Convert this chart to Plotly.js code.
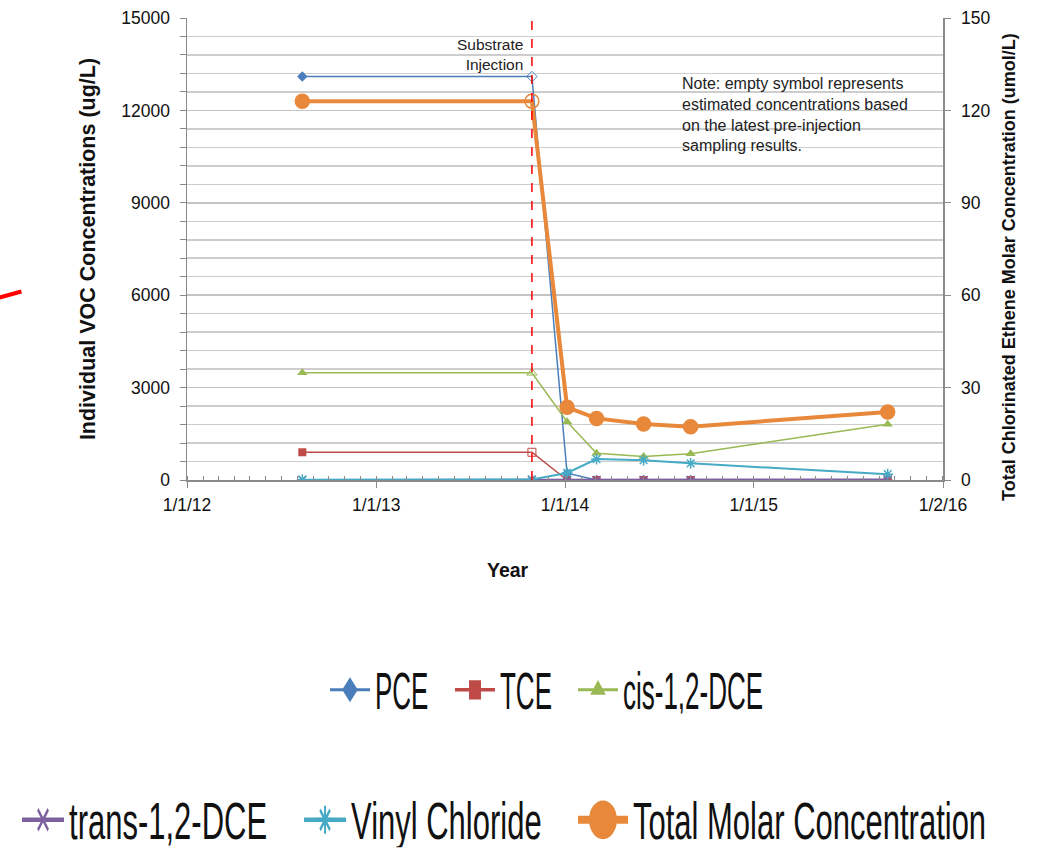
<!DOCTYPE html>
<html>
<head>
<meta charset="utf-8">
<script src="https://cdn.plot.ly/plotly-3.0.1.min.js"></script>
<style>html,body{margin:0;padding:0;background:#fff;}#chart{width:1038px;height:857px;}</style>
</head>
<body>
<div id="chart"></div>
<script>
// ---- data ----
const sampleDates = ['2012-08-11','2013-10-29','2014-01-05','2014-03-03','2014-06-02','2014-09-01','2015-09-17'];
const estimated   = [false, true, false, false, false, false, false];
const pce   = [13100, 13100, 220, 0, 0, 0, 0];
const tce   = [900, 900, 0, 0, 0, 0, 0];
const cis12 = [3480, 3480, 1890, 870, 760, 850, 1810];
const trans12 = [0, 0, 0, 0, 0, 0, 20];
const vinyl = [10, 20, 230, 680, 645, 540, 190];
const totalMolar = [123, 123, 23.6, 20, 18.2, 17.3, 22.1];
const injectionDate = '2013-10-29';
const xTickVals = ['2012-01-01','2013-01-01','2014-01-01','2015-01-01','2016-01-02'];
const xTickText = ['1/1/12','1/1/13','1/1/14','1/1/15','1/2/16'];

function syms(base){ return estimated.map(e => e ? base + '-open' : base); }

const traces = [
  {name:'PCE', x:sampleDates, y:pce, mode:'lines+markers', legend:'legend', legendwidth:70,
   line:{color:'#4A7EBB', width:1.5}, marker:{symbol:syms('diamond'), size:8, color:'#4A7EBB'}},
  {name:'TCE', x:sampleDates, y:tce, mode:'lines+markers', legend:'legend', legendwidth:68,
   line:{color:'#BE4B48', width:1.5}, marker:{symbol:syms('square'), size:8, color:'#BE4B48'}},
  {name:'cis-1,2-DCE', x:sampleDates, y:cis12, mode:'lines+markers', legend:'legend',
   line:{color:'#98B954', width:1.5}, marker:{symbol:syms('triangle-up'), size:9, color:'#98B954'}},
  {name:'trans-1,2-DCE', x:sampleDates, y:trans12, mode:'lines+markers', legend:'legend2', legendwidth:225,
   line:{color:'#7D60A0', width:2}, marker:{symbol:'x-thin-open', size:8, color:'#7D60A0', line:{width:1.5, color:'#7D60A0'}}},
  {name:'Vinyl Chloride', x:sampleDates, y:vinyl, mode:'lines+markers', legend:'legend2',
   line:{color:'#46AAC5', width:2}, marker:{symbol:'asterisk-open', size:9, color:'#46AAC5', line:{width:1.5, color:'#46AAC5'}}},
  {name:'Total Molar Concentration', x:sampleDates, y:totalMolar, yaxis:'y2', mode:'lines+markers', legend:'legend3',
   line:{color:'#E8883A', width:4}, marker:{symbol:syms('circle'), size:14, color:'#E8883A', line:{width:1.5, color:'#E8883A'}}}
];

const baseFam = 'Liberation Sans, Arial, sans-serif';
const tickFont = {family:baseFam, size:17.5, color:'#111'};
const row1Font = {family:baseFam, size:26, color:'#111'};
const row2Font = {family:baseFam, size:31, color:'#111'};

const layout = {
  width:1038, height:857,
  margin:{l:187, r:95, t:18, b:377, pad:0},
  paper_bgcolor:'#fff', plot_bgcolor:'#fff',
  xaxis:{type:'date', range:['2012-01-01','2016-01-02'], tickmode:'array', tickvals:xTickVals, ticktext:xTickText,
    showgrid:false, zeroline:false, showline:true, linecolor:'#8a8a8a', linewidth:1.5,
    ticks:'outside', ticklen:6, tickcolor:'#8a8a8a', tickfont:tickFont, ticklabelstandoff:2,
    minor:{tickmode:'linear', tick0:'2012-01-01', dtick:'M1', ticks:'inside', ticklen:4, tickcolor:'#8a8a8a', showgrid:false}},
  yaxis:{range:[0,15000], tickmode:'linear', tick0:0, dtick:3000, showgrid:true, gridcolor:'#c4c4c4', gridwidth:1.5,
    zeroline:false, showline:true, linecolor:'#8a8a8a', linewidth:1.5, ticks:'outside', ticklen:6, tickcolor:'#8a8a8a',
    tickfont:tickFont, tickformat:'d', ticklabelstandoff:6,
    minor:{dtick:600, showgrid:true, gridcolor:'#cdcdcd', gridwidth:1.5, ticks:'outside', ticklen:6, tickcolor:'#8a8a8a'},
    title:{text:'<b>Individual VOC Concentrations (ug/L)</b>', font:{family:baseFam, size:21.5, color:'#111'}, standoff:20}},
  yaxis2:{range:[0,150], overlaying:'y', side:'right', tickmode:'linear', tick0:0, dtick:30, showgrid:false, zeroline:false,
    showline:true, linecolor:'#8a8a8a', linewidth:1.5, ticks:'outside', ticklen:6, tickcolor:'#8a8a8a', tickfont:tickFont,
    ticklabelstandoff:7},
  shapes:[
    {type:'line', xref:'x', yref:'paper', x0:injectionDate, x1:injectionDate, y0:0, y1:1, line:{color:'#ff0000', width:1.5, dash:'dash'}},
    {type:'line', xref:'paper', yref:'paper', x0:-0.248, x1:-0.219, y0:0.395, y1:0.408, line:{color:'#ff0000', width:4}}
  ],
  annotations:[
    {xref:'x', yref:'paper', x:injectionDate, y:0.92, xanchor:'right', yanchor:'middle', xshift:-7, align:'right', showarrow:false,
     text:'Substrate<br>Injection', font:{family:baseFam, size:15.5, color:'#222'}},
    {xref:'paper', yref:'paper', x:0.652, y:0.792, xanchor:'left', yanchor:'middle', align:'left', showarrow:false,
     text:'Note: empty symbol represents<br>estimated concentrations based<br>on the latest pre-injection<br>sampling results.',
     font:{family:baseFam, size:16, color:'#222'}},
    {xref:'paper', yref:'paper', x:0.425, y:-0.195, xanchor:'center', yanchor:'middle', showarrow:false,
     text:'<b>Year</b>', font:{family:baseFam, size:19.5, color:'#111'}},
    {xref:'paper', yref:'paper', x:1.0873, y:0.461, xanchor:'center', yanchor:'middle', textangle:-90, showarrow:false,
     text:'<b>Total Chlorinated Ethene Molar Concentration (umol/L)</b>', font:{family:baseFam, size:18, color:'#111'}}
  ],
  legend:{orientation:'h', xref:'container', yref:'container', x:0.3131, y:0.195, xanchor:'left', yanchor:'middle',
    font:row1Font, itemwidth:40, bgcolor:'rgba(0,0,0,0)'},
  legend2:{orientation:'h', xref:'container', yref:'container', x:0.0164, y:0.043, xanchor:'left', yanchor:'middle',
    font:row2Font, itemwidth:42, bgcolor:'rgba(0,0,0,0)'},
  legend3:{orientation:'h', xref:'container', yref:'container', x:0.552, y:0.043, xanchor:'left', yanchor:'middle',
    font:row2Font, itemwidth:50, bgcolor:'rgba(0,0,0,0)'},
  showlegend:true
};

// legend glyph look of the reference (tall, narrow lettering; enlarged symbols)
const legendLook = {
  'PCE':            {text:2.0,  mk:[1.5,2.4], lw:3},
  'TCE':            {text:2.0,  mk:[1.5,2.4], lw:3.5},
  'cis-1,2-DCE':    {text:2.0,  mk:[1.5,2.2], lw:3},
  'trans-1,2-DCE':  {text:1.67, mk:[1.3,2.6], lw:4.5},
  'Vinyl Chloride': {text:1.67, mk:[1.3,2.6], lw:4.5},
  'Total Molar Concentration': {text:1.67, mk:[1.8,2.5], lw:8}
};

function restyleLegends(){
  document.querySelectorAll('#chart g.traces').forEach(function(item){
    const t = item.querySelector('text');
    let name = null;
    try { name = item.__data__[0].trace.name; } catch(e) {}
    if(!name && t) name = t.textContent.trim();
    const look = legendLook[name];
    if(!look) return;
    if(t && t.style.transform.indexOf('scaleY') < 0){
      t.style.transformBox = 'fill-box';
      t.style.transformOrigin = 'center';
      t.style.transform = 'scaleY(' + look.text + ')';
    }
    item.querySelectorAll('path.scatterpts').forEach(function(p){
      const tr = p.getAttribute('transform') || '';
      if(tr.indexOf('scale') < 0) p.setAttribute('transform', tr + ' scale(' + look.mk[0] + ',' + look.mk[1] + ')');
    });
    item.querySelectorAll('path.js-line').forEach(function(p){
      if(p.style.strokeWidth !== look.lw + 'px') p.style.strokeWidth = look.lw + 'px';
    });
  });
}

const chartDiv = document.getElementById('chart');
const observer = new MutationObserver(function(){ restyleLegends(); });
observer.observe(chartDiv, {childList:true, subtree:true});

Plotly.newPlot('chart', traces, layout, {displayModeBar:false, staticPlot:true}).then(function(gd){
  restyleLegends();
  gd.on('plotly_afterplot', restyleLegends);
  setTimeout(restyleLegends, 0);
  setTimeout(restyleLegends, 100);
});
</script>
</body>
</html>
